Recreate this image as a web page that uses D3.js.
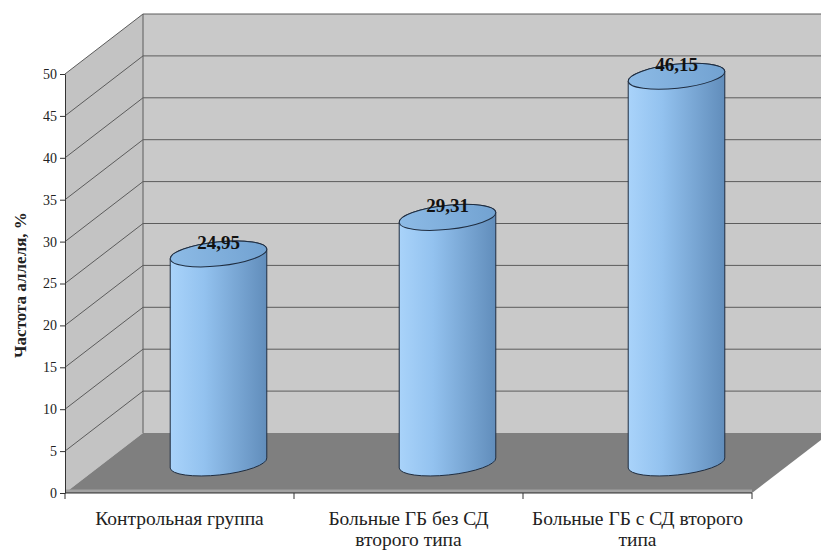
<!DOCTYPE html>
<html>
<head>
<meta charset="utf-8">
<script src="https://cdn.jsdelivr.net/npm/d3@7/dist/d3.min.js"></script>
<style>
  html, body { margin: 0; padding: 0; background: #ffffff; }
  svg { display: block; }
</style>
</head>
<body>
<svg id="chart" width="821" height="551"></svg>
<script>
// Allele frequency by group (%)
const categories = [
  ["Контрольная группа"],
  ["Больные ГБ без СД", "второго типа"],
  ["Больные ГБ с СД второго", "типа"]
];
const values = [24.95, 29.31, 46.15];
const valueLabels = ["24,95", "29,31", "46,15"];
const yTicks = [0, 5, 10, 15, 20, 25, 30, 35, 40, 45, 50];
const yTitle = "Частота аллеля, %";

const svg = d3.select("#chart");
const W = 821, H = 551;
const serif = "'Liberation Serif', 'Times New Roman', serif";

// front plane geometry and oblique depth offset
const x0 = 65, x1 = 752;
const y = d3.scaleLinear().domain([0, 50]).range([493, 74]);
const depth = { dx: 78, dy: -60 };
const x = d3.scaleBand().domain(d3.range(categories.length)).range([x0, x1]).padding(0);

const defs = svg.append("defs");
const grad = defs.append("linearGradient").attr("id", "cylSide")
  .attr("x1", "0%").attr("x2", "100%").attr("y1", "0%").attr("y2", "0%");
grad.append("stop").attr("offset", "0%").attr("stop-color", "#a9d3fa");
grad.append("stop").attr("offset", "35%").attr("stop-color", "#93c2ef");
grad.append("stop").attr("offset", "100%").attr("stop-color", "#618dbb");
const gradTop = defs.append("linearGradient").attr("id", "cylTop")
  .attr("x1", "0%").attr("x2", "100%").attr("y1", "0%").attr("y2", "0%");
gradTop.append("stop").attr("offset", "0%").attr("stop-color", "#8dbbe6");
gradTop.append("stop").attr("offset", "100%").attr("stop-color", "#72a2d1");

const yMin = 0, yMax = 50;
const backLeft = x0 + depth.dx;
const backBottom = y(yMin) + depth.dy;
const backTop = y(yMax) + depth.dy;

// back wall
svg.append("rect")
  .attr("x", backLeft).attr("y", backTop)
  .attr("width", W - backLeft + 20).attr("height", backBottom - backTop)
  .attr("fill", "#c9c9c9");

// side wall
svg.append("polygon")
  .attr("points", [
    [x0, y(yMin)], [x0, y(yMax)],
    [backLeft, backTop], [backLeft, backBottom]
  ].map(p => p.join(",")).join(" "))
  .attr("fill", "#c3c3c3");

// gridlines on side and back walls
const grid = svg.append("g").attr("stroke", "#5c5c5c").attr("stroke-width", 1).attr("fill", "none");
yTicks.filter(t => t > 0).forEach(t => {
  grid.append("line")
    .attr("x1", x0).attr("y1", y(t))
    .attr("x2", backLeft).attr("y2", y(t) + depth.dy);
  grid.append("line")
    .attr("x1", backLeft).attr("y1", y(t) + depth.dy)
    .attr("x2", W + 20).attr("y2", y(t) + depth.dy);
});
grid.append("line")
  .attr("x1", backLeft).attr("y1", backTop)
  .attr("x2", backLeft).attr("y2", backBottom);

// floor
svg.append("polygon")
  .attr("points", [
    [x0, y(yMin)], [x1, y(yMin)],
    [x1 + depth.dx, backBottom], [backLeft, backBottom]
  ].map(p => p.join(",")).join(" "))
  .attr("fill", "#7f7f7f");
svg.append("line")
  .attr("x1", x0).attr("y1", y(yMin) - 2)
  .attr("x2", x1).attr("y2", y(yMin) - 2)
  .attr("stroke", "#a2a2a2").attr("stroke-width", 3);

// cylinders at mid depth
const rot = -6;
const rad = rot * Math.PI / 180;
const rx = x.bandwidth() * 0.212;
const ry = 12;
function endPts(cx, cy) {
  return {
    lx: cx - rx * Math.cos(rad), ly: cy - rx * Math.sin(rad),
    rx_: cx + rx * Math.cos(rad), ry_: cy + rx * Math.sin(rad)
  };
}
const bars = svg.append("g");
values.forEach((v, i) => {
  const cx = x(i) + x.bandwidth() / 2 + depth.dx / 2;
  const yb = y(0) + depth.dy / 2;
  const yt = y(v) + depth.dy / 2;
  const b = endPts(cx, yb), t = endPts(cx, yt);
  const side = `M${t.lx},${t.ly} L${b.lx},${b.ly} ` +
    `A${rx},${ry} ${rot} 0 0 ${b.rx_},${b.ry_} ` +
    `L${t.rx_},${t.ry_} A${rx},${ry} ${rot} 0 0 ${t.lx},${t.ly} Z`;
  bars.append("path").attr("d", side)
    .attr("fill", "url(#cylSide)")
    .attr("stroke", "#1f2d40").attr("stroke-width", 1);
  bars.append("ellipse")
    .attr("cx", cx).attr("cy", yt).attr("rx", rx).attr("ry", ry)
    .attr("transform", `rotate(${rot},${cx},${yt})`)
    .attr("fill", "url(#cylTop)")
    .attr("stroke", "#1f2d40").attr("stroke-width", 1);
  bars.append("text")
    .attr("x", cx).attr("y", yt - 5)
    .attr("text-anchor", "middle")
    .attr("font-family", serif)
    .attr("font-weight", "bold").attr("font-size", 19)
    .attr("fill", "#111")
    .text(valueLabels[i]);
});

// value axis
const yAxis = svg.append("g")
  .attr("transform", `translate(${x0},0)`)
  .call(d3.axisLeft(y).tickValues(yTicks).tickSize(5).tickPadding(3).tickSizeOuter(0));
yAxis.select(".domain").attr("stroke", "#333");
yAxis.selectAll(".tick line").attr("stroke", "#333");
yAxis.selectAll(".tick text")
  .attr("font-family", serif)
  .attr("font-size", 14).attr("fill", "#222");

// category axis
const xAxisG = svg.append("g").attr("transform", `translate(0,${y(0)})`);
xAxisG.append("line").attr("x1", x0).attr("x2", x1).attr("stroke", "#333");
xAxisG.selectAll("line.tk")
  .data(d3.range(categories.length + 1))
  .join("line").attr("class", "tk")
  .attr("x1", i => x0 + i * x.bandwidth()).attr("x2", i => x0 + i * x.bandwidth())
  .attr("y1", 0).attr("y2", 6).attr("stroke", "#333");
categories.forEach((lines, i) => {
  const t = svg.append("text")
    .attr("text-anchor", "middle")
    .attr("font-family", serif)
    .attr("font-size", 19.5).attr("fill", "#222");
  lines.forEach((ln, j) => {
    t.append("tspan")
      .attr("x", x(i) + x.bandwidth() / 2)
      .attr("y", 525 + j * 21)
      .text(ln);
  });
});

// axis title
svg.append("text")
  .attr("transform", `translate(26,${285}) rotate(-90)`)
  .attr("text-anchor", "middle")
  .attr("font-family", serif)
  .attr("font-weight", "bold").attr("font-size", 17).attr("fill", "#222")
  .text(yTitle);
</script>
</body>
</html>
